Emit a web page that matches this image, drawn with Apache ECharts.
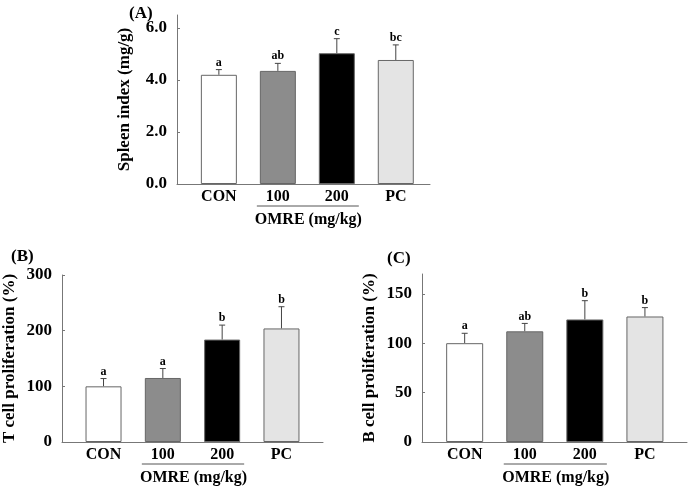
<!DOCTYPE html>
<html>
<head>
<meta charset="utf-8">
<script src="https://cdn.jsdelivr.net/npm/echarts@6/dist/echarts.min.js"></script>
<style>html,body{margin:0;padding:0;background:#fff;}#c{width:689px;height:488px;}</style>
</head>
<body>
<div id="c"></div>
<script>
// ---- data ----
const categories = ['CON', '100', '200', 'PC'];
const barColors = ['#ffffff', '#8c8c8c', '#000000', '#e4e4e4'];
const groupSpan = [2, 3];            // categories under the OMRE bracket
const groupLabel = 'OMRE (mg/kg)';

const spleenMean = [4.2, 4.35, 5.03, 4.77];
const spleenSD   = [0.2, 0.29, 0.56, 0.58];
const spleenSig  = ['a', 'ab', 'c', 'bc'];
const spleenTicks = [0, 2, 4, 6];

const tcellMean = [100, 115, 184, 204];
const tcellSD   = [14, 17, 26, 39];
const tcellSig  = ['a', 'a', 'b', 'b'];
const tcellTicks = [0, 100, 200, 300];

const bcellMean = [100, 112, 124, 127];
const bcellSD   = [10, 8, 19, 9];
const bcellSig  = ['a', 'ab', 'b', 'b'];
const bcellTicks = [0, 50, 100, 150];

const FONT = '"Liberation Serif", "Times New Roman", serif';
const AXIS_COLOR = '#777';

const panels = [
  {title: '(A)', titlePos: {left: 124, top: 0}, name: 'Spleen index (mg/g)',
   grid: {left: 177, right: 259, top: 15, bottom: 304},
   xmin: 0.29, xmax: 4.58, ymax: 6.5, ticks: spleenTicks, dec: 1, barW: 36,
   mean: spleenMean, sd: spleenSD, sig: spleenSig},
  {title: '(B)', titlePos: {left: 6, top: 243}, name: 'T cell proliferation (%)',
   grid: {left: 62, right: 366, top: 275, bottom: 46},
   xmin: 0.30, xmax: 4.70, ymax: 300, ticks: tcellTicks, dec: 0, barW: 36,
   mean: tcellMean, sd: tcellSD, sig: tcellSig},
  {title: '(C)', titlePos: {left: 382, top: 245}, name: 'B cell proliferation (%)',
   grid: {left: 422, right: 2, top: 274, bottom: 46},
   xmin: 0.29, xmax: 4.70, ymax: 170, ticks: bcellTicks, dec: 0, barW: 37,
   mean: bcellMean, sd: bcellSD, sig: bcellSig}
];

const option = {
  backgroundColor: '#fff',
  animation: false,
  title: [], grid: [], xAxis: [], yAxis: [], series: []
};

panels.forEach((p, i) => {
  option.title.push(Object.assign({
    text: p.title,
    textStyle: {fontFamily: FONT, fontWeight: 'bold', fontSize: 17, color: '#000'}
  }, p.titlePos));
  option.grid.push(p.grid);
  option.xAxis.push({
    type: 'value', gridIndex: i, min: p.xmin, max: p.xmax,
    splitLine: {show: false},
    axisLine: {show: true, lineStyle: {color: AXIS_COLOR, width: 1}},
    axisTick: {show: false},
    axisLabel: {
      customValues: [1, 2, 3, 4],
      formatter: v => categories[Math.round(v) - 1],
      fontFamily: FONT, fontWeight: 'bold', fontSize: 16, color: '#000', margin: 5
    }
  });
  option.yAxis.push({
    type: 'value', gridIndex: i, min: 0, max: p.ymax,
    name: p.name, nameLocation: 'middle', nameGap: 44, nameRotate: 90,
    nameTextStyle: {fontFamily: FONT, fontWeight: 'bold', fontSize: 17, color: '#000'},
    splitLine: {show: false},
    axisLine: {show: true, lineStyle: {color: AXIS_COLOR, width: 1}},
    axisTick: {show: true, inside: true, length: 3, customValues: p.ticks, lineStyle: {color: AXIS_COLOR}},
    axisLabel: {
      customValues: p.ticks,
      formatter: v => Number(v).toFixed(p.dec),
      fontFamily: FONT, fontWeight: 'bold', fontSize: 17, color: '#000', margin: 10
    }
  });
  option.series.push({
    type: 'bar', xAxisIndex: i, yAxisIndex: i, barWidth: p.barW,
    data: p.mean.map((m, k) => ({
      value: [k + 1, m],
      itemStyle: {color: barColors[k], borderColor: '#666', borderWidth: 1}
    }))
  });
  option.series.push({
    type: 'custom', xAxisIndex: i, yAxisIndex: i, clip: false,
    data: p.mean.map((m, k) => [k + 1, m, p.sd[k], p.sig[k]]),
    renderItem: (params, api) => {
      const x = api.value(0), m = api.value(1), s = api.value(2);
      const base = api.coord([x, m]);
      const top = api.coord([x, m + s]);
      const letter = p.sig[params.dataIndex];
      return {
        type: 'group',
        children: [
          {type: 'line', shape: {x1: base[0], y1: base[1], x2: top[0], y2: top[1]},
           style: {stroke: '#444', lineWidth: 1}},
          {type: 'line', shape: {x1: top[0] - 3, y1: top[1], x2: top[0] + 3, y2: top[1]},
           style: {stroke: '#444', lineWidth: 1}},
          {type: 'text', x: top[0], y: top[1] - 1,
           style: {text: letter, textAlign: 'center', textVerticalAlign: 'bottom',
                   font: 'bold 12px ' + FONT, fill: '#000'}}
        ]
      };
    }
  });
  option.series.push({
    type: 'custom', xAxisIndex: i, yAxisIndex: i, clip: false,
    data: [[groupSpan[0], groupSpan[1]]],
    renderItem: (params, api) => {
      const a = api.coord([api.value(0), 0]);
      const b = api.coord([api.value(1), 0]);
      const y = a[1] + 22;
      return {
        type: 'group',
        children: [
          {type: 'line', shape: {x1: a[0] - 21, y1: y, x2: b[0] + 22, y2: y},
           style: {stroke: '#555', lineWidth: 1}},
          {type: 'text', x: (a[0] + b[0]) / 2 + 1, y: y + 14,
           style: {text: groupLabel, textAlign: 'center', textVerticalAlign: 'middle',
                   font: 'bold 16px ' + FONT, fill: '#000'}}
        ]
      };
    }
  });
});

const chart = echarts.init(document.getElementById('c'));
chart.setOption(option);
</script>
</body>
</html>
